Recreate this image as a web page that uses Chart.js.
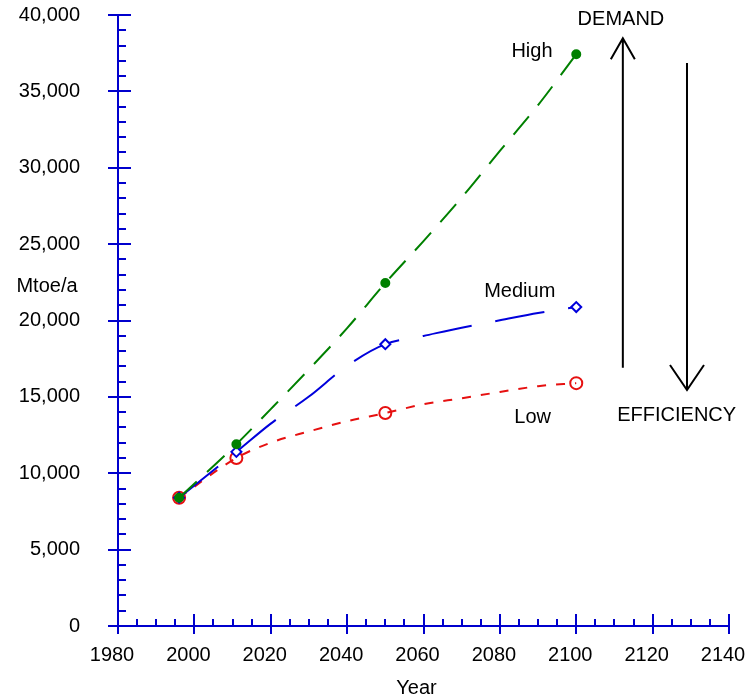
<!DOCTYPE html>
<html>
<head>
<meta charset="utf-8">
<script src="https://cdn.jsdelivr.net/npm/chart.js@4.4.0/dist/chart.umd.min.js"></script>
<style>
    html, body { margin: 0; padding: 0; background: #fff; }
    #wrap { width: 748px; height: 700px; }
</style>
</head>
<body>
<div id="wrap"><canvas id="grafik-energi"></canvas></div>
<script>
// values (Mtoe/a)
const years = [1996, 2011, 2020, 2030, 2040, 2050, 2060, 2070, 2080, 2090, 2100];
const high = [8400, 11900, 14200, 16800, 19500, 22450, 25200, 28050, 31100, 34100, 37430];
const medium = [8400, 11400, 13250, 15020, 17030, 18450, 18990, 19530, 20010, 20490, 20880];
const low = [8400, 11000, 12000, 12740, 13410, 13940, 14520, 14910, 15320, 15700, 15900];
const markerYears = [1996, 2011, 2050, 2100];

const yearTicks = [1980, 2000, 2020, 2040, 2060, 2080, 2100, 2120, 2140];
const energyTicks = [0, 5000, 10000, 15000, 20000, 25000, 30000, 35000, 40000];

const AXIS = "#0000cd";
const GREEN = "#008000";
const BLUE = "#0000dc";
const RED = "#e61010";
const FONT = "'Liberation Sans', Arial, sans-serif";

function seri(label, values, color, dash, style, radius, fill) {
    return {
        label: label,
        data: years.map((yr, i) => ({ x: yr, y: values[i] })),
        borderColor: color,
        borderWidth: 2,
        borderDash: dash,
        cubicInterpolationMode: "monotone",
        pointStyle: style,
        pointRadius: years.map((yr) => (markerYears.includes(yr) ? radius : 0)),
        pointBorderColor: color,
        pointBackgroundColor: fill,
        pointBorderWidth: 2,
        fill: false,
    };
}

// arrows and free labels, in data coordinates
const demandArrow = { x: 2112.2, from: 16900, to: 38480 };
const efficiencyArrow = { x: 2129, from: 36850, to: 15450 };
const notes = [
    { text: "High", x: 2088.4, y: 37630 },
    { text: "Medium", x: 2085.2, y: 21920 },
    { text: "Low", x: 2088.6, y: 13680 },
    { text: "DEMAND", x: 2111.7, y: 39720 },
    { text: "EFFICIENCY", x: 2126.3, y: 13810 },
];

const hiasan = {
    id: "hiasan",
    afterDraw(chart) {
        const { ctx, chartArea: a, scales: { x, y } } = chart;
        ctx.save();

        // inner major ticks + minor ticks
        ctx.strokeStyle = AXIS;
        ctx.lineWidth = 2;
        ctx.beginPath();
        for (let v = 0; v <= 40000; v += 1000) {
            const py = Math.round(y.getPixelForValue(v));
            ctx.moveTo(a.left, py);
            ctx.lineTo(a.left + (v % 5000 ? 8 : 13), py);
        }
        for (let v = 1980; v <= 2140; v += 5) {
            const px = Math.round(x.getPixelForValue(v));
            ctx.moveTo(px, a.bottom);
            ctx.lineTo(px, a.bottom - (v % 20 ? 7 : 12));
        }
        ctx.stroke();

        // arrows
        ctx.strokeStyle = "#000";
        ctx.beginPath();
        let px = x.getPixelForValue(demandArrow.x);
        let y0 = y.getPixelForValue(demandArrow.from);
        let y1 = y.getPixelForValue(demandArrow.to);
        ctx.moveTo(px, y0);
        ctx.lineTo(px, y1);
        ctx.moveTo(px - 12, y1 + 21);
        ctx.lineTo(px, y1);
        ctx.lineTo(px + 12, y1 + 21);

        px = x.getPixelForValue(efficiencyArrow.x);
        y0 = y.getPixelForValue(efficiencyArrow.from);
        y1 = y.getPixelForValue(efficiencyArrow.to);
        ctx.moveTo(px, y0);
        ctx.lineTo(px, y1);
        ctx.moveTo(px - 17, y1 - 25);
        ctx.lineTo(px, y1);
        ctx.lineTo(px + 17, y1 - 25);
        ctx.stroke();

        // labels
        ctx.fillStyle = "#000";
        ctx.font = "20px " + FONT;
        ctx.textAlign = "center";
        ctx.textBaseline = "middle";
        notes.forEach((n) => {
            ctx.fillText(n.text, x.getPixelForValue(n.x), y.getPixelForValue(n.y));
        });
        ctx.fillText("Mtoe/a", a.left - 71, y.getPixelForValue(22250));
        ctx.fillText("Year", (a.left + a.right) / 2 - 7, a.bottom + 62);

        ctx.restore();
    },
};

new Chart(document.getElementById("grafik-energi"), {
    type: "line",
    data: {
        datasets: [
            seri("High", high, GREEN, [24, 14], "circle", 4, GREEN),
            seri("Medium", medium, BLUE, [50, 24], "rectRot", 5, "#fff"),
            seri("Low", low, RED, [9, 10], "circle", 6, "rgba(0,0,0,0)"),
        ],
    },
    options: {
        responsive: true,
        maintainAspectRatio: false,
        animation: false,
        layout: { padding: { left: 0, top: 15, right: 19, bottom: 0 } },
        plugins: {
            legend: { display: false },
            tooltip: { enabled: false },
        },
        scales: {
            x: {
                type: "linear",
                min: 1980,
                max: 2140,
                afterBuildTicks: (s) => {
                    s.ticks = yearTicks.map((v) => ({ value: v }));
                },
                afterFit: (s) => {
                    s.height = 74;
                    s.paddingLeft = 0;
                    s.paddingRight = 0;
                },
                border: { display: true, color: AXIS, width: 2 },
                grid: {
                    drawOnChartArea: false,
                    drawTicks: true,
                    tickLength: 8,
                    color: AXIS,
                    lineWidth: 2,
                },
                ticks: {
                    color: "#000",
                    font: { family: FONT, size: 20 },
                    padding: 9,
                    labelOffset: -6,
                    maxRotation: 0,
                    autoSkip: false,
                    callback: (v) => String(v),
                },
            },
            y: {
                type: "linear",
                min: 0,
                max: 40000,
                afterBuildTicks: (s) => {
                    s.ticks = energyTicks.map((v) => ({ value: v }));
                },
                afterFit: (s) => {
                    s.width = 118;
                    s.paddingTop = 0;
                    s.paddingBottom = 0;
                },
                border: { display: true, color: AXIS, width: 2 },
                grid: {
                    drawOnChartArea: false,
                    drawTicks: true,
                    tickLength: 10,
                    color: AXIS,
                    lineWidth: 2,
                },
                ticks: {
                    color: "#000",
                    font: { family: FONT, size: 20 },
                    padding: 28,
                    autoSkip: false,
                    callback: (v) => v.toLocaleString("en-US"),
                },
            },
        },
    },
    plugins: [hiasan],
});
</script>
</body>
</html>
